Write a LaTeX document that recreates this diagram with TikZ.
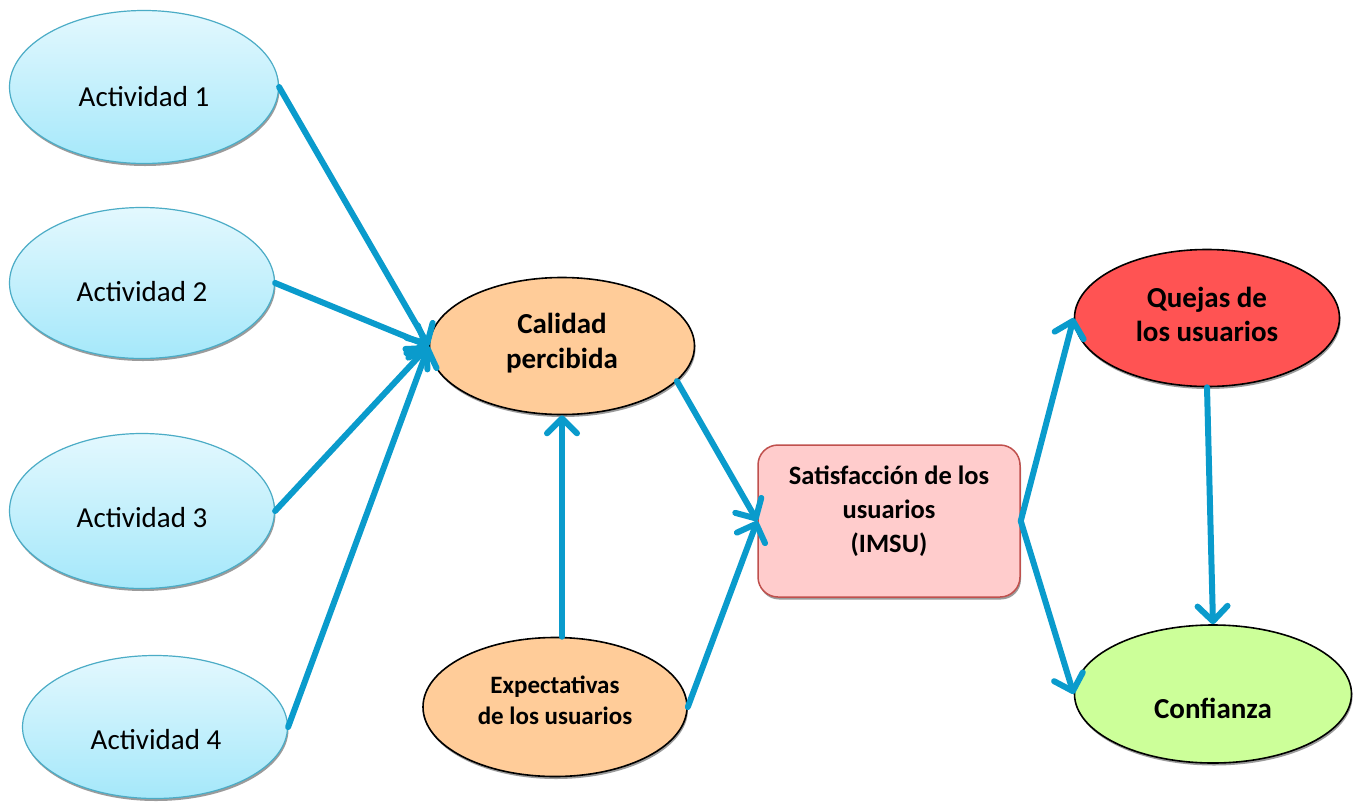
\documentclass[tikz,border=0pt]{standalone}
\usepackage{fontspec}
\setmainfont{Carlito}
\usetikzlibrary{shapes.geometric,arrows.meta,shadows}
\definecolor{arrowblue}{HTML}{0A9BCC}
\definecolor{actborder}{HTML}{4BACC6}
\definecolor{acttop}{HTML}{E3F8FE}
\definecolor{actbottom}{HTML}{A5E8FA}
\definecolor{orangefill}{HTML}{FFCC99}
\definecolor{pinkfill}{HTML}{FFCCCC}
\definecolor{pinkborder}{HTML}{C0504D}
\definecolor{redfill}{HTML}{FF5353}
\definecolor{greenfill}{HTML}{CCFF99}
\begin{document}
\begin{tikzpicture}[x=1pt,y=-1pt,
  shad/.style={drop shadow={shadow xshift=1pt,shadow yshift=-2.5pt,fill=black!65,opacity=0.6}},
  act/.style={ellipse, draw=actborder, line width=1.2pt, top color=acttop, bottom color=actbottom, inner sep=0pt, shad},
  oval/.style={ellipse, draw=black, line width=1.6pt, inner sep=0pt, shad},
  lbl/.style={align=center, inner sep=0pt, font=\fontsize{29}{35}\selectfont},
  blbl/.style={lbl, font=\fontsize{29}{35}\selectfont\bfseries},
  arr/.style={draw=arrowblue, line width=6pt, line cap=round, -{Straight Barb[round,length=15pt,width=30pt]}}
]
\useasboundingbox[fill=white] (0,0) rectangle (1358,801);

% Actividades
\node[act, minimum width=269pt, minimum height=153pt] (a1) at (144,87) {};
\node[act, minimum width=265pt, minimum height=151pt] (a2) at (142,283) {};
\node[act, minimum width=265pt, minimum height=155pt] (a3) at (142,511) {};
\node[act, minimum width=265pt, minimum height=143pt] (a4) at (155,727) {};
\node[lbl] (a1t) at (144,97) {Actividad 1};
\node[lbl] (a2t) at (142,292) {Actividad 2};
\node[lbl] (a3t) at (142,518) {Actividad 3};
\node[lbl] (a4t) at (156,740) {Actividad 4};

% Calidad percibida
\node[oval, fill=orangefill, minimum width=265pt, minimum height=137pt] (cal) at (562,346) {};
\node[blbl] (calt) at (562,343) {Calidad\\percibida};

% Expectativas
\node[oval, fill=orangefill, minimum width=264pt, minimum height=139pt] (exp) at (555,707) {};
\node[blbl, font=\fontsize{25}{31}\selectfont\bfseries] (expt) at (555,700) {Expectativas\\de los usuarios};

% Satisfaccion
\node[rectangle, rounded corners=20pt, draw=pinkborder, line width=1.5pt, fill=pinkfill, shad,
      minimum width=262pt, minimum height=152pt, inner sep=0pt] (sat) at (889,521) {};
\node[blbl, font=\fontsize{26.5}{34}\selectfont\bfseries] (satt) at (889,511) {Satisfacción de los\\usuarios\\(IMSU)};

% Quejas
\node[oval, fill=redfill, minimum width=265pt, minimum height=137pt] (quj) at (1207,318) {};
\node[blbl, font=\fontsize{29}{34}\selectfont\bfseries] (qujt) at (1207,314) {Quejas de\\los usuarios};

% Confianza
\node[oval, fill=greenfill, minimum width=277pt, minimum height=138pt] (conf) at (1213,694) {};
\node[blbl] (conft) at (1213,708) {Confianza};

% Arrows
\draw[arr] (a1.east) -- (cal.west);
\draw[arr] (a2.east) -- (cal.west);
\draw[arr] (a3.east) -- (cal.west);
\draw[arr] (a4.east) -- (cal.west);
\draw[arr] (cal.south |- exp.north) -- (cal.south);
\draw[arr] (cal.-17) -- (sat.west);
\draw[arr] (exp.east) -- (sat.west);
\draw[arr] (sat.east) -- (quj.west);
\draw[arr] (sat.east) -- (conf.west);
\draw[arr] (quj.south) -- (conf.north);
\end{tikzpicture}
\end{document}
